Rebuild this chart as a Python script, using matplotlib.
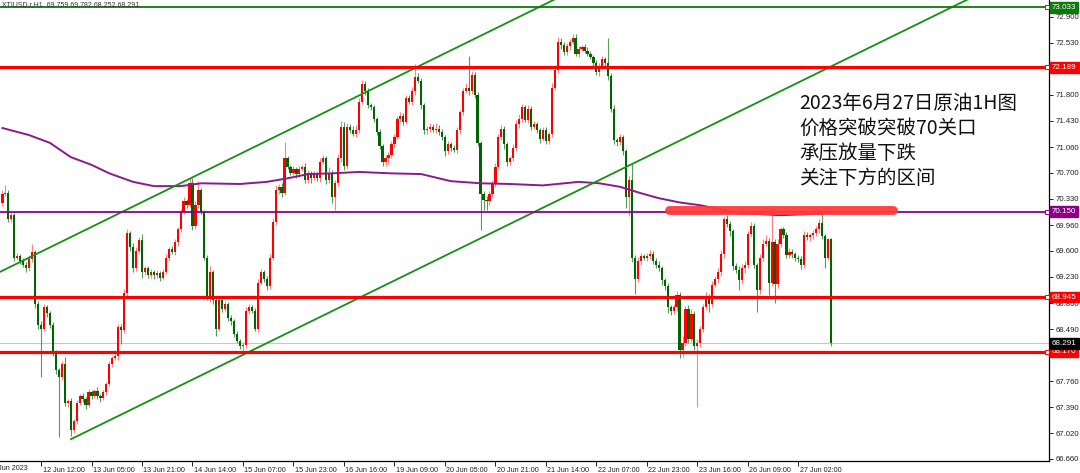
import matplotlib
matplotlib.use("Agg")
import matplotlib.pyplot as plt
import matplotlib.transforms as mtransforms
import numpy as np

# XTIUSD H1 candles (open of each bar = previous close)
first_open = 70.27
closes = [
    70.40, 70.42, 70.05, 70.10, 69.50, 69.52, 69.45, 69.40, 69.35, 69.48,
    69.58, 68.85, 68.55, 68.50, 68.80, 68.72, 68.55, 68.17, 67.92, 67.82,
    68.00, 67.45, 67.48, 67.07, 67.20, 67.45, 67.55, 67.50, 67.42, 67.60,
    67.55, 67.62, 67.55, 67.52, 67.60, 67.72, 68.00, 68.08, 68.12, 68.52,
    68.48, 69.00, 69.85, 69.65, 69.35, 69.60, 69.75, 69.30, 69.35, 69.25,
    69.30, 69.25, 69.28, 69.22, 69.30, 69.50, 69.62, 69.58, 69.72, 69.90,
    70.15, 70.30, 70.25, 70.55, 69.95, 70.25, 70.45, 70.15, 69.50, 68.95,
    69.30, 68.90, 68.50, 68.90, 68.78, 68.85, 68.65, 68.60, 68.42, 68.32,
    68.25, 68.27, 68.75, 68.80, 68.75, 68.50, 69.15, 69.30, 69.20, 69.10,
    69.50, 70.00, 70.45, 70.50, 70.42, 70.90, 70.78, 70.70, 70.75, 70.68,
    70.75, 70.78, 70.60, 70.70, 70.62, 70.68, 70.62, 70.85, 70.90, 70.60,
    70.70, 70.35, 70.55, 70.90, 71.35, 70.80, 71.35, 71.30, 71.25, 71.30,
    71.70, 71.95, 71.85, 71.65, 71.62, 71.45, 71.28, 71.07, 70.85, 70.90,
    70.95, 71.10, 71.20, 71.45, 71.50, 71.42, 71.75, 71.70, 71.85, 72.05,
    72.00, 71.65, 71.30, 71.32, 71.35, 71.30, 71.32, 71.28, 71.20, 71.00,
    71.10, 71.05, 71.02, 71.30, 71.55, 71.85, 71.90, 71.85, 72.08, 71.80,
    71.12, 70.40, 70.32, 70.30, 70.40, 70.55, 70.78, 71.20, 71.32, 71.10,
    70.85, 70.90, 71.05, 71.38, 71.45, 71.62, 71.44, 71.60, 71.35, 71.38,
    71.30, 71.17, 71.30, 71.15, 71.25, 71.90, 72.15, 72.55, 72.50, 72.40,
    72.48, 72.55, 72.60, 72.38, 72.45, 72.47, 72.42, 72.38, 72.33, 72.25,
    72.12, 72.20, 72.30, 72.25, 72.06, 71.60, 71.16, 71.13, 71.20, 71.00,
    70.35, 70.60, 69.50, 69.20, 69.45, 69.52, 69.50, 69.53, 69.55, 69.45,
    69.40, 69.35, 69.18, 69.10, 68.80, 68.75, 68.80, 68.97, 68.20, 68.30,
    68.78, 68.35, 68.70, 68.25, 68.30, 68.50, 68.80, 68.95, 68.85, 69.12,
    69.20, 69.30, 69.55, 70.05, 69.98, 69.87, 69.38, 69.33, 69.18, 69.35,
    69.40, 69.83, 69.95, 69.40, 69.05, 69.50, 69.70, 69.74, 69.15, 69.72,
    69.13, 69.70, 69.90, 69.82, 69.54, 69.58, 69.55, 69.50, 69.48, 69.40,
    69.82, 69.79, 69.82, 69.85, 69.90, 69.99, 69.80, 69.50, 69.759, 68.291,
]
# wick lengths above / below the body, in cents
wick_up = [
    5, 11, 3, 4, 3, 4, 3, 5, 4, 6,
    12, 3, 4, 5, 4, 3, 3, 4, 3, 3,
    4, 10, 3, 4, 3, 4, 3, 4, 3, 5,
    4, 3, 5, 3, 4, 3, 4, 3, 4, 5,
    4, 6, 5, 3, 6, 5, 4, 8, 4, 3,
    4, 3, 4, 3, 4, 5, 3, 4, 5, 4,
    4, 5, 3, 7, 8, 5, 13, 4, 3, 4,
    8, 3, 4, 4, 3, 4, 3, 4, 3, 4,
    3, 4, 5, 4, 3, 4, 5, 4, 3, 4,
    5, 6, 7, 4, 5, 23, 4, 3, 4, 3,
    4, 3, 5, 4, 3, 4, 3, 6, 5, 4,
    8, 4, 5, 6, 8, 6, 5, 4, 6, 7,
    5, 6, 4, 5, 3, 4, 3, 4, 3, 5,
    4, 5, 4, 5, 6, 4, 5, 4, 6, 19,
    5, 4, 3, 4, 5, 3, 8, 5, 4, 3,
    4, 3, 4, 5, 4, 5, 6, 45, 5, 4,
    4, 3, 4, 5, 4, 5, 6, 4, 5, 4,
    3, 4, 5, 6, 8, 5, 4, 6, 4, 5,
    4, 3, 5, 4, 3, 6, 5, 6, 5, 4,
    5, 4, 6, 5, 4, 3, 4, 5, 4, 3,
    4, 5, 4, 3, 35, 4, 5, 3, 4, 3,
    4, 5, 23, 4, 6, 5, 3, 4, 6, 5,
    4, 5, 4, 3, 4, 3, 5, 6, 4, 10,
    4, 5, 8, 5, 6, 4, 5, 6, 4, 5,
    4, 5, 6, 3, 5, 4, 3, 4, 5, 6,
    5, 4, 5, 4, 3, 5, 6, 8, 4, 50,
    5, 6, 4, 3, 4, 5, 4, 3, 4, 5,
    5, 4, 3, 4, 5, 6, 14, 4, 2, 2,
]
wick_dn = [
    4, 3, 5, 4, 5, 3, 4, 3, 5, 4,
    4, 6, 5, 68, 4, 5, 4, 5, 6, 85,
    5, 4, 6, 8, 5, 4, 3, 4, 5, 3,
    4, 3, 4, 6, 3, 4, 3, 4, 3, 6,
    20, 4, 5, 6, 5, 4, 3, 8, 5, 4,
    4, 5, 3, 5, 4, 3, 4, 3, 4, 5,
    4, 3, 5, 4, 6, 4, 5, 4, 3, 5,
    8, 5, 10, 4, 5, 3, 4, 5, 4, 3,
    4, 10, 5, 4, 3, 4, 5, 3, 4, 5,
    4, 3, 4, 5, 6, 4, 3, 4, 3, 5,
    4, 3, 5, 4, 6, 3, 4, 5, 3, 6,
    5, 8, 18, 4, 5, 6, 5, 4, 3, 4,
    4, 3, 5, 4, 3, 4, 5, 4, 6, 5,
    8, 5, 4, 3, 4, 5, 4, 3, 4, 5,
    4, 5, 6, 5, 4, 3, 4, 5, 4, 6,
    4, 5, 3, 4, 5, 4, 3, 5, 4, 5,
    5, 51, 15, 13, 5, 4, 5, 3, 4, 6,
    5, 4, 3, 4, 5, 4, 3, 4, 5, 4,
    4, 5, 3, 4, 5, 4, 3, 4, 5, 4,
    4, 5, 3, 4, 5, 4, 3, 4, 3, 5,
    4, 5, 3, 4, 5, 4, 6, 5, 4, 5,
    15, 26, 6, 21, 4, 5, 3, 4, 5, 4,
    5, 4, 6, 5, 8, 6, 4, 5, 12, 10,
    5, 6, 4, 5, 86, 6, 5, 4, 12, 5,
    4, 5, 6, 5, 4, 6, 5, 4, 14, 5,
    6, 5, 4, 5, 32, 6, 5, 4, 18, 5,
    27, 6, 5, 4, 5, 4, 6, 5, 4, 6,
    5, 4, 6, 5, 4, 5, 4, 15, 3, 4,
]

# moving average (purple), read at bar positions
ma_bars = [0, 9, 16, 23, 30, 36, 44, 51, 60, 67, 80, 89, 96, 103, 111, 120,
           131, 141, 151, 161, 171, 182, 194, 201, 208, 215, 221, 228, 235,
           248, 262, 275, 279]
ma_vals = [71.33, 71.23, 71.12, 70.92, 70.81, 70.69, 70.57, 70.51, 70.51, 70.55,
           70.54, 70.57, 70.62, 70.68, 70.69, 70.71, 70.69, 70.68, 70.58, 70.55,
           70.54, 70.52, 70.57, 70.55, 70.50, 70.41, 70.34, 70.28, 70.24,
           70.13, 70.10, 70.12, 70.14]

# channel anchors (bar, price)
lower_channel = [(23.1, 66.94), (241.6, 71.43)]
upper_channel = [(-0.8, 69.30), (120.4, 71.795)]

# horizontal levels
levels = [73.033, 72.189, 70.150, 68.945, 68.170]
level_colors = ["#0b7a0b", "#ff0000", "#8b008b", "#ff0000", "#ff0000"]
last_price = 68.291

price_ticks = [72.900, 72.530, 72.170, 71.800, 71.430, 71.060, 70.700, 70.330,
               69.960, 69.600, 69.230, 68.860, 68.490, 68.120, 67.760, 67.390,
               67.020, 66.660]
time_ticks = [13, 30, 47, 64, 81, 98, 115, 132, 149, 166, 183, 200, 217, 234, 251, 268]
time_labels = ["12 Jun 12:00", "13 Jun 05:00", "13 Jun 21:00", "14 Jun 14:00",
               "15 Jun 07:00", "15 Jun 23:00", "16 Jun 16:00", "19 Jun 09:00",
               "20 Jun 05:00", "20 Jun 21:00", "21 Jun 14:00", "22 Jun 07:00",
               "22 Jun 23:00", "23 Jun 16:00", "26 Jun 09:00", "27 Jun 02:00"]

note_lines = ["2023年6月27日原油1H图", "价格突破突破70关口", "承压放量下跌", "关注下方的区间"]
header = "XTIUSD.r,H1  69.759 69.782 68.252 68.291"

plt.rcParams["font.family"] = ["Liberation Sans", "DejaVu Sans"]

W, H = 1080, 473
fig = plt.figure(figsize=(W / 100, H / 100), dpi=100)
fig.patch.set_facecolor("white")
ax = fig.add_axes([0, 12.3 / H, 1049 / W, 460.7 / H])
ax.set_xlim(-0.81, 352.4)
ax.set_ylim(66.636, 73.136)

# candles
c = np.array(closes)
o = np.array([first_open] + closes[:-1])
idx = np.arange(len(c))
bull = c >= o
hi = np.maximum(o, c) + np.array(wick_up) / 100
lo = np.minimum(o, c) - np.array(wick_dn) / 100
ax.vlines(idx[bull], lo[bull], hi[bull], color="#ff8080", lw=0.8, zorder=3)
ax.vlines(idx[~bull], lo[~bull], hi[~bull], color="#589a58", lw=0.8, zorder=3)
body = np.maximum(np.abs(c - o), 0.012)
ax.bar(idx, body, bottom=np.minimum(o, c), width=0.74,
       color=np.where(bull, "#ff0000", "#006400"), linewidth=0, zorder=4)

# moving average
ax.plot(ma_bars, ma_vals, color="#8b1a8b", lw=1.4, zorder=5)

# channels, drawn from their anchors out past the right edge
for (x0, y0), (x1, y1) in [lower_channel, upper_channel]:
    slope = (y1 - y0) / (x1 - x0)
    xs = x0 if x0 > 0 else -10
    ax.plot([xs, 400], [y0 + slope * (xs - x0), y0 + slope * (400 - x0)],
            color="#159015", lw=1.3, zorder=6)

# horizontal levels
ax.axhline(last_price, color="#c8c8c8", lw=0.8, zorder=2)
for lv, col in zip(levels, level_colors):
    lw = 2.3 if col == "#ff0000" else 1.3
    ax.axhline(lv, color=col, lw=lw, zorder=6)

# red highlight stroke
ax.plot([224.4, 299.9], [70.18, 70.18], color="#ff3b3b", lw=6.4,
        solid_capstyle="round", alpha=0.95, zorder=7)

# axes styling
for s in ["top", "left"]:
    ax.spines[s].set_visible(False)
for s in ["right", "bottom"]:
    ax.spines[s].set_color("#000000")
    ax.spines[s].set_linewidth(0.9)
ax.yaxis.tick_right()
ax.set_yticks(price_ticks)
ax.set_yticklabels(["%.3f" % v for v in price_ticks])
ax.tick_params(axis="y", labelsize=5.6, length=3, width=0.7, pad=2, colors="#222222")
ax.set_xticks(time_ticks)
ax.set_xticklabels(time_labels)
ax.tick_params(axis="x", labelsize=5.2, length=3.5, width=0.7, pad=0.8, colors="#222222")
offset = mtransforms.ScaledTranslation(1.5 / 100, 0, fig.dpi_scale_trans)
for lab in ax.get_xticklabels():
    lab.set_horizontalalignment("left")
    lab.set_transform(lab.get_transform() + offset)

fig.text(-8 / W, 1 - 468 / H, "9 Jun 2023", fontsize=5.2, color="#222222",
         ha="left", va="center")

# price boxes on the right scale
trans = mtransforms.blended_transform_factory(ax.transAxes, ax.transData)
boxes = list(zip(levels, level_colors)) + [(last_price, "#000000")]
for lv, col in boxes:
    ax.text(1.0 + 3 / 1049, lv, "%.3f" % lv, transform=trans, fontsize=5.8,
            color="white", ha="left", va="center", zorder=10, clip_on=False,
            bbox=dict(facecolor=col, edgecolor=col, boxstyle="square,pad=0.24"))
    if col != "#000000":
        ax.plot([1.0 - 2.5 / 1049], [lv], marker="s", ms=2.8, mfc="white", mec=col,
                mew=0.7, transform=trans, clip_on=False, zorder=9)

# header and note text
fig.text(2 / W, 1 - 5 / H, header, fontsize=5, color="#333333", ha="left", va="center",
         zorder=1)
for i, line in enumerate(note_lines):
    fig.text(799 / W, 1 - (103.5 + 25 * i) / H, line, fontsize=14, color="#111111",
             ha="left", va="center", family=["Noto Sans CJK SC", "DejaVu Sans"])

fig.savefig("out.png", dpi=100, facecolor="white")
